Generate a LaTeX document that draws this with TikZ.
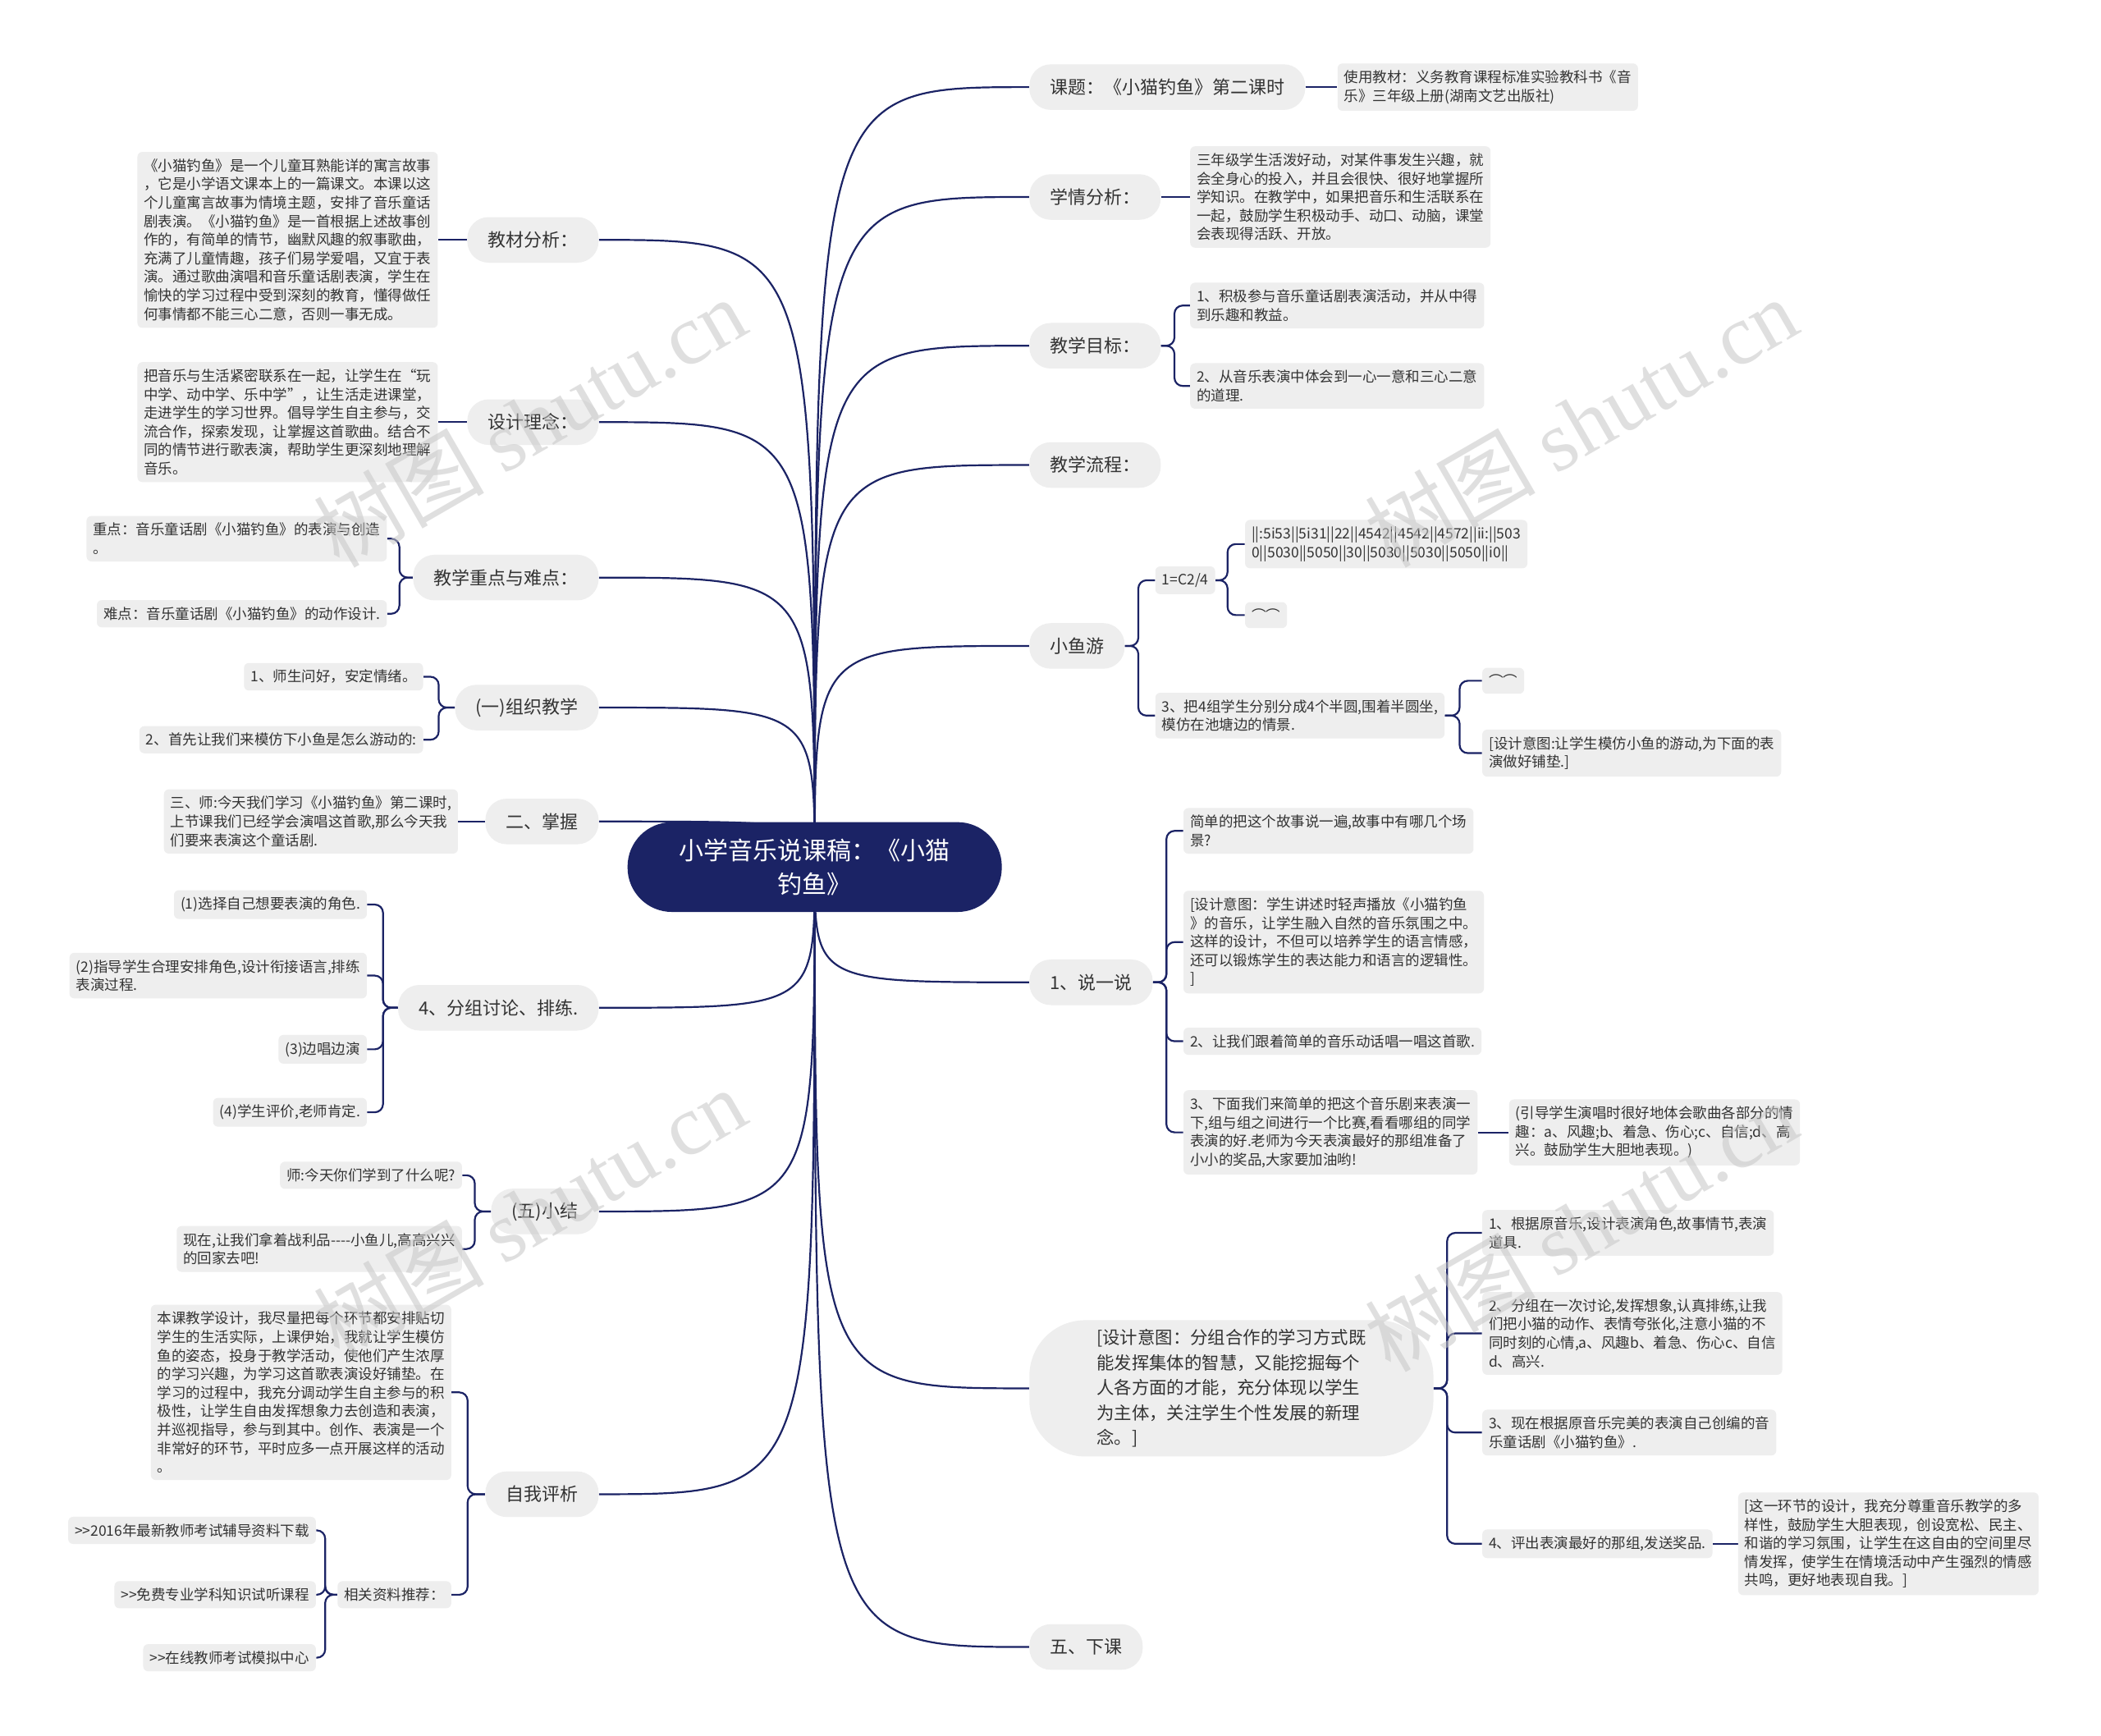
\documentclass[tikz,border=0pt]{standalone}
\usepackage{fontspec}
\setmainfont{Noto Sans CJK SC}
\newfontfamily\wmlatin{Liberation Serif}
\usetikzlibrary{backgrounds}
\definecolor{navy}{RGB}{27,35,101}
\definecolor{boxgray}{RGB}{238,238,238}
\definecolor{inkgray}{RGB}{51,51,51}
\tikzset{rootbox/.style={
    fill=navy,
    text=white,
    align=center,
    rounded corners=27pt,
    minimum width=228pt,
    minimum height=54.7pt,
    font=\fontsize{15pt}{20.4pt}\selectfont
  },
  topic/.style={
    fill=boxgray,
    text=inkgray,
    rounded corners=13pt,
    minimum height=27.75pt,
    inner xsep=12.5pt,
    font=\fontsize{11pt}{14pt}\selectfont
  },
  bigtopic/.style={topic,align=left,rounded corners=34pt,
    inner xsep=41pt,minimum height=83pt,
    font=\fontsize{10.7pt}{15.3pt}\selectfont},
  leaf/.style={
    fill=boxgray,
    text=inkgray,
    rounded corners=3pt,
    align=left,
    inner xsep=4pt,
    inner ysep=4.2pt,
    font=\fontsize{8.75pt}{11.3pt}\selectfont
  },
  link/.style={draw=navy,line width=1.1pt},
  brace/.style={link,rounded corners=5pt},
  wmark/.style={text=gray!45,opacity=0.55,rotate=30,
    font=\fontsize{52pt}{56pt}\selectfont},
}
\begin{document}
\begin{tikzpicture}[x=0.8163pt,y=-0.8163pt]
  \useasboundingbox (0,0) rectangle (1568,1295);
  \node [rootbox] (root) at (608,647) {小学音乐说课稿：《小猫\\钓鱼》};

  % right side
  \node [topic,anchor=west] (keti) at (768,65) {课题：《小猫钓鱼》第二课时};
  \node [leaf,anchor=west] (jctext) at (998,65) {使用教材：义务教育课程标准实验教科书《音\\乐》三年级上册(湖南文艺出版社)};
  \node [topic,anchor=west] (xueqing) at (768,147) {学情分析：};
  \node [leaf,anchor=west] (xqtext) at (888,147) {三年级学生活泼好动，对某件事发生兴趣，就\\会全身心的投入，并且会很快、很好地掌握所\\学知识。在教学中，如果把音乐和生活联系在\\一起，鼓励学生积极动手、动口、动脑，课堂\\会表现得活跃、开放。};
  \node [topic,anchor=west] (mubiao) at (768,258) {教学目标：};
  \node [leaf,anchor=west] (mb1) at (888,228) {1、积极参与音乐童话剧表演活动，并从中得\\到乐趣和教益。};
  \node [leaf,anchor=west] (mb2) at (888,288) {2、从音乐表演中体会到一心一意和三心二意\\的道理.};
  \node [topic,anchor=west] (liucheng) at (768,347) {教学流程：};
  \node [topic,anchor=west] (xiaoyu) at (768,482) {小鱼游};
  \node [leaf,anchor=west] (pitch) at (862,433) {1=C2/4};
  \node [leaf,anchor=west] (score) at (929,406) {||:5i53||5i31||22||4542||4542||4572||ii:||503\\0||5030||5050||30||5030||5030||5050||i0||};
  \node [leaf,anchor=west] (arcA) at (929,459) {⌒⌒};
  \node [leaf,anchor=west] (group) at (862,534) {3、把4组学生分别分成4个半圆,围着半圆坐,\\模仿在池塘边的情景.};
  \node [leaf,anchor=west] (arcB) at (1106,508) {⌒⌒};
  \node [leaf,anchor=west] (yitu1) at (1106,562) {[设计意图:让学生模仿小鱼的游动,为下面的表\\演做好铺垫.]};
  \node [topic,anchor=west] (shuo) at (768,733) {1、说一说};
  \node [leaf,anchor=west] (sh1) at (883,620) {简单的把这个故事说一遍,故事中有哪几个场\\景?};
  \node [leaf,anchor=west] (sh2) at (883,703) {[设计意图：学生讲述时轻声播放《小猫钓鱼\\》的音乐，让学生融入自然的音乐氛围之中。\\这样的设计，不但可以培养学生的语言情感，\\还可以锻炼学生的表达能力和语言的逻辑性。\\]};
  \node [leaf,anchor=west] (sh3) at (883,777) {2、让我们跟着简单的音乐动话唱一唱这首歌.};
  \node [leaf,anchor=west] (sh4) at (883,845) {3、下面我们来简单的把这个音乐剧来表演一\\下,组与组之间进行一个比赛,看看哪组的同学\\表演的好.老师为今天表演最好的那组准备了\\小小的奖品,大家要加油哟!};
  \node [leaf,anchor=west] (guide) at (1126,845) {(引导学生演唱时很好地体会歌曲各部分的情\\趣：a、风趣;b、着急、伤心;c、自信;d、高\\兴。鼓励学生大胆地表现。)};
  \node [bigtopic,anchor=west] (bigidea) at (768,1036) {[设计意图：分组合作的学习方式既\\能发挥集体的智慧，又能挖掘每个\\人各方面的才能，充分体现以学生\\为主体，关注学生个性发展的新理\\念。]};
  \node [leaf,anchor=west] (bi1) at (1106,920) {1、根据原音乐,设计表演角色,故事情节,表演\\道具.};
  \node [leaf,anchor=west] (bi2) at (1106,995) {2、分组在一次讨论,发挥想象,认真排练,让我\\们把小猫的动作、表情夸张化,注意小猫的不\\同时刻的心情,a、风趣b、着急、伤心c、自信\\d、高兴.};
  \node [leaf,anchor=west] (bi3) at (1106,1069) {3、现在根据原音乐完美的表演自己创编的音\\乐童话剧《小猫钓鱼》.};
  \node [leaf,anchor=west] (bi4) at (1106,1152) {4、评出表演最好的那组,发送奖品.};
  \node [leaf,anchor=west] (bireflect) at (1297,1152) {[这一环节的设计，我充分尊重音乐教学的多\\样性，鼓励学生大胆表现，创设宽松、民主、\\和谐的学习氛围，让学生在这自由的空间里尽\\情发挥，使学生在情境活动中产生强烈的情感\\共鸣，更好地表现自我。]};
  \node [topic,anchor=west] (xiake) at (768,1229) {五、下课};

  % left side
  \node [topic,anchor=east] (fenxi) at (447,179) {教材分析：};
  \node [leaf,anchor=east] (fxtext) at (327,179) {《小猫钓鱼》是一个儿童耳熟能详的寓言故事\\，它是小学语文课本上的一篇课文。本课以这\\个儿童寓言故事为情境主题，安排了音乐童话\\剧表演。《小猫钓鱼》是一首根据上述故事创\\作的，有简单的情节，幽默风趣的叙事歌曲，\\充满了儿童情趣，孩子们易学爱唱，又宜于表\\演。通过歌曲演唱和音乐童话剧表演，学生在\\愉快的学习过程中受到深刻的教育，懂得做任\\何事情都不能三心二意，否则一事无成。};
  \node [topic,anchor=east] (linian) at (447,315) {设计理念：};
  \node [leaf,anchor=east] (lntext) at (327,315) {把音乐与生活紧密联系在一起，让学生在“玩\\中学、动中学、乐中学”，让生活走进课堂，\\走进学生的学习世界。倡导学生自主参与，交\\流合作，探索发现，让掌握这首歌曲。结合不\\同的情节进行歌表演，帮助学生更深刻地理解\\音乐。};
  \node [topic,anchor=east] (zhongnan) at (447,431) {教学重点与难点：};
  \node [leaf,anchor=east] (zhong) at (289,402) {重点：音乐童话剧《小猫钓鱼》的表演与创造\\。};
  \node [leaf,anchor=east] (nan) at (289,458) {难点：音乐童话剧《小猫钓鱼》的动作设计.};
  \node [topic,anchor=east] (zuzhi) at (447,528) {(一)组织教学};
  \node [leaf,anchor=east] (zz1) at (316,505) {1、师生问好，安定情绪。};
  \node [leaf,anchor=east] (zz2) at (316,552) {2、首先让我们来模仿下小鱼是怎么游动的:};
  \node [topic,anchor=east] (zhangwo) at (447,613) {二、掌握};
  \node [leaf,anchor=east] (zwtext) at (342,613) {三、师:今天我们学习《小猫钓鱼》第二课时,\\上节课我们已经学会演唱这首歌,那么今天我\\们要来表演这个童话剧.};
  \node [topic,anchor=east] (taolun) at (447,752) {4、分组讨论、排练.};
  \node [leaf,anchor=east] (tl1) at (274,675) {(1)选择自己想要表演的角色.};
  \node [leaf,anchor=east] (tl2) at (274,728) {(2)指导学生合理安排角色,设计衔接语言,排练\\表演过程.};
  \node [leaf,anchor=east] (tl3) at (274,783) {(3)边唱边演};
  \node [leaf,anchor=east] (tl4) at (274,830) {(4)学生评价,老师肯定.};
  \node [topic,anchor=east] (xiaojie) at (447,904) {(五)小结};
  \node [leaf,anchor=east] (xj1) at (345,877) {师:今天你们学到了什么呢?};
  \node [leaf,anchor=east] (xj2) at (345,932) {现在,让我们拿着战利品-{}-{}-{}-小鱼儿,高高兴兴\\的回家去吧!};
  \node [topic,anchor=east] (pingxi) at (447,1115) {自我评析};
  \node [leaf,anchor=east] (pxtext) at (337,1039) {本课教学设计，我尽量把每个环节都安排贴切\\学生的生活实际，上课伊始，我就让学生模仿\\鱼的姿态，投身于教学活动，使他们产生浓厚\\的学习兴趣，为学习这首歌表演设好铺垫。在\\学习的过程中，我充分调动学生自主参与的积\\极性，让学生自由发挥想象力去创造和表演，\\并巡视指导，参与到其中。创作、表演是一个\\非常好的环节，平时应多一点开展这样的活动\\。};
  \node [leaf,anchor=east] (ziliao) at (337,1190) {相关资料推荐：};
  \node [leaf,anchor=east] (zl1) at (236,1142) {>{}>2016年最新教师考试辅导资料下载};
  \node [leaf,anchor=east] (zl2) at (236,1190) {>{}>免费专业学科知识试听课程};
  \node [leaf,anchor=east] (zl3) at (236,1237) {>{}>在线教师考试模拟中心};

  \begin{scope}[on background layer]
    \fill[white] (0,0) rectangle (1568,1295);
    % main branches
    \foreach \t in {keti,xueqing,mubiao,liucheng,xiaoyu,shuo,bigidea,xiake}
      \draw[link] (root.center) .. controls (root.center |- \t.west) .. (\t.west);
    \foreach \t in {fenxi,linian,zhongnan,zuzhi,zhangwo,taolun,xiaojie,pingxi}
      \draw[link] (root.center) .. controls (root.center |- \t.east) .. (\t.east);
    % single children
    \draw[link] (keti.east) -- (jctext.west);
    \draw[link] (xueqing.east) -- (xqtext.west);
    \draw[link] (sh4.east) -- (guide.west);
    \draw[link] (bi4.east) -- (bireflect.west);
    \draw[link] (fenxi.west) -- (fxtext.east);
    \draw[link] (linian.west) -- (lntext.east);
    \draw[link] (zhangwo.west) -- (zwtext.east);
    % brackets, right
    \foreach \c in {mb1,mb2}
      \draw[brace] (mubiao.east) -- ++(10,0) |- (\c.west);
    \foreach \c in {pitch,group}
      \draw[brace] (xiaoyu.east) -- ++(10,0) |- (\c.west);
    \foreach \c in {score,arcA}
      \draw[brace] (pitch.east) -- ++(9,0) |- (\c.west);
    \foreach \c in {arcB,yitu1}
      \draw[brace] (group.east) -- ++(11,0) |- (\c.west);
    \foreach \c in {sh1,sh2,sh3,sh4}
      \draw[brace] (shuo.east) -- ++(10,0) |- (\c.west);
    \foreach \c in {bi1,bi2,bi3,bi4}
      \draw[brace] (bigidea.east) -- ++(10,0) |- (\c.west);
    % brackets, left
    \foreach \c in {zhong,nan}
      \draw[brace] (zhongnan.west) -- ++(-10,0) |- (\c.east);
    \foreach \c in {zz1,zz2}
      \draw[brace] (zuzhi.west) -- ++(-12,0) |- (\c.east);
    \foreach \c in {tl1,tl2,tl3,tl4}
      \draw[brace] (taolun.west) -- ++(-11,0) |- (\c.east);
    \foreach \c in {xj1,xj2}
      \draw[brace] (xiaojie.west) -- ++(-12,0) |- (\c.east);
    \foreach \c in {pxtext,ziliao}
      \draw[brace] (pingxi.west) -- ++(-13,0) |- (\c.east);
    \foreach \c in {zl1,zl2,zl3}
      \draw[brace] (ziliao.west) -- ++(-9,0) |- (\c.east);
  \end{scope}

  % watermarks
  \node [wmark] (wm1) at (395,315) {树图 {\wmlatin shutu.cn}};
  \node [wmark] (wm2) at (1180,315) {树图 {\wmlatin shutu.cn}};
  \node [wmark] (wm3) at (395,905) {树图 {\wmlatin shutu.cn}};
  \node [wmark] (wm4) at (1180,915) {树图 {\wmlatin shutu.cn}};
\end{tikzpicture}
\end{document}
